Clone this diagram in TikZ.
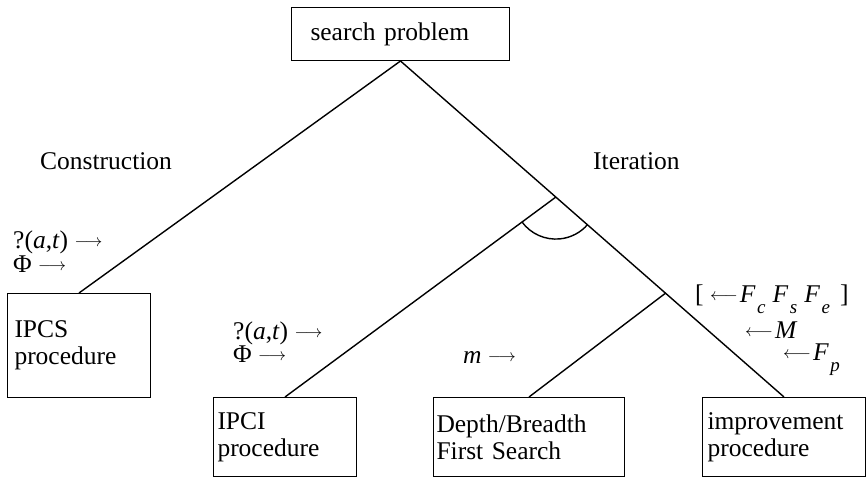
\documentclass[tikz,border=0pt]{standalone}
\usepackage{fontspec}
\setmainfont{Liberation Serif}
\usetikzlibrary{calc}
\newcommand{\rar}{\raisebox{2pt}{\fontsize{16}{16}\selectfont$\longrightarrow$}}
\newcommand{\lar}{\raisebox{2pt}{\fontsize{16}{16}\selectfont$\longleftarrow$}\kern2pt}
\newcommand{\sbs}[1]{\kern1.5pt\raisebox{-11pt}{\fontsize{19}{19}\selectfont\itshape #1}}
\begin{document}
\begin{tikzpicture}[x=1pt,y=1pt,
  every node/.style={font=\fontsize{25.5}{27}\selectfont, inner sep=0pt},
  box/.style={draw, line width=1pt, anchor=north west, align=left, minimum height=#1},
  conn/.style={line width=1.4pt},
  lab/.style={anchor=base west}]
\useasboundingbox (0,0) rectangle (866,477);
% boxes
\node[box=53pt, inner xsep=19pt, text width=180pt] (top) at (291,470) {search problem};
\node[box=104pt, inner xsep=7pt, text width=129pt] (ipcs) at (7,184) {IPCS\\procedure};
\node[box=79pt, inner xsep=4pt, text width=135pt] (ipci) at (213,80) {IPCI\\procedure};
\node[box=79pt, inner xsep=3pt, text width=185pt] (dbfs) at (433,80) {Depth/Breadth\\First Search};
\node[box=79pt, inner xsep=5pt, text width=153pt] (impr) at (702,80) {improvement\\procedure};
% branch points
\coordinate (A) at ($(top.south)!0.405!(impr.north)$);
\coordinate (B) at ($(top.south)!0.691!(impr.north)$);
% connectors
\draw[conn] (top.south) -- (ipcs.north);
\draw[conn] (top.south) -- (impr.north);
\draw[conn] (A) -- (ipci.north);
\draw[conn] (B) -- (dbfs.north);
\draw[conn] ($(A)+(216:42)$) arc[start angle=216, end angle=319, radius=42];
% labels
\node[lab] (con) at (40,307) {Construction};
\node[lab] (ite) at (593,307) {Iteration};
\node[lab] (q1) at (13,229) {?(\textit{a},\textit{t}) \rar};
\node[lab] (p1) at (13,205) {Φ \rar};
\node[lab] (q2) at (233,138) {?(\textit{a},\textit{t}) \rar};
\node[lab] (p2) at (233,115) {Φ \rar};
\node[lab] (m) at (463,114) {\textit{m} \rar};
\node[lab] (fcse) at (695,175) {[ \lar\textit{F}\sbs{c}\kern7pt\textit{F}\sbs{s}\kern7pt\textit{F}\sbs{e}\kern10pt]};
\node[lab] (mm) at (745,139) {\lar\textit{M}};
\node[lab] (fp) at (783,117) {\lar\textit{F}\sbs{p}};
\end{tikzpicture}
\end{document}
